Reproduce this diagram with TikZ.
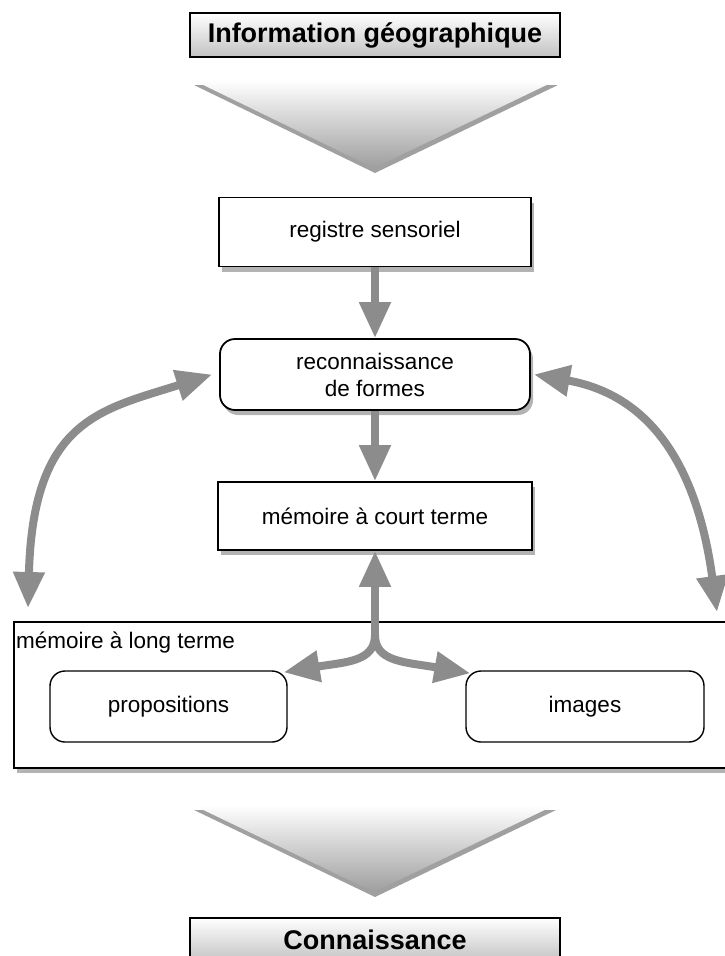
\documentclass[tikz,border=0pt]{standalone}
\usepackage{fontspec}
\setmainfont{Liberation Sans}
\usetikzlibrary{shadows,arrows.meta,shapes,positioning,calc,backgrounds}
\definecolor{Arrowgray}{HTML}{8C8C8C}
\definecolor{Titlegray}{HTML}{C2C2C2}

\begin{document}
\begin{tikzpicture}
[x=1pt,y=1pt,
every node/.style={text=black,font=\fontsize{22.5}{27}\selectfont},
plain/.style={draw=black,line width=1.8pt,fill=white,minimum width=312pt,minimum
height=69pt,align=center,inner sep=0pt},
box/.style={plain,drop shadow={shadow xshift=3pt,shadow yshift=-5pt,opacity=.6}},
rbox/.style={box,rounded corners=15pt},
ibox/.style={plain,line width=1.4pt,rounded corners=15pt,minimum height=71pt},
title/.style={draw=black,line width=1.4pt,top color=white,bottom
color=Titlegray,minimum width=370pt,minimum height=44pt,inner sep=0pt,
font=\bfseries\fontsize{27}{30}\selectfont},
chevron/.style={top color=white,bottom color=black!38,
drop shadow={shadow xshift=1pt,shadow yshift=-5pt,opacity=.75}},
gedge/.style={Arrowgray,line width=8pt,>={Triangle[length=36pt,width=30pt]}}]

\useasboundingbox (0,0) rectangle (725,-956);

%% input
\node[title] (info) at (375,-35) {Information géographique};
\path[chevron] (193,-80) -- (557,-80) -- (374,-168) -- cycle;

\node[box] (reg) at (375,-232) {registre sensoriel};
\node[rbox,minimum width=310pt,minimum height=71pt] (reco) at (375,-374.5)
{reconnaissance\\de formes};
\node[box,minimum width=314pt,minimum height=68pt] (stm) at (375,-516)
{mémoire à court terme};

%% long term memory
\node[box,line width=1.4pt,minimum width=716pt,minimum height=146pt] (ltm) at
(372,-695) {};
\node[anchor=west,inner sep=0pt] (ltmlabel) at (16,-643) {mémoire à long terme};
\node[ibox,minimum width=237pt] (prop) at (168.5,-706.5) {propositions};
\node[ibox,minimum width=238pt] (img) at (585,-706.5) {images};

%% arrows
\draw[gedge,->] (reg) -- (reco);
\draw[gedge,->] (reco) -- (stm);
\coordinate (ltl) at (28,-608);
\coordinate (ltr) at (717,-612);
\draw[gedge,<->] (ltl) .. controls (33,-420) and (100,-410) .. ([xshift=-7pt]reco.west);
\draw[gedge,<->] ([xshift=3pt]reco.east) .. controls (650,-395) and (697,-465) .. (ltr);
\coordinate (fork) at (375,-635);
\draw[gedge,->] (fork) -- (stm);
\draw[gedge,->] (fork) .. controls (375,-662) and (345,-662) .. ([shift={(-4pt,-2pt)}]prop.north east);
\draw[gedge,->] (fork) .. controls (375,-662) and (405,-662) .. ([shift={(5pt,-3pt)}]img.north west);

%% output
\path[chevron] (193,-805) -- (555,-805) -- (374,-892) -- cycle;
\node[title] (know) at (375,-940) {Connaissance};

\end{tikzpicture}
\end{document}
